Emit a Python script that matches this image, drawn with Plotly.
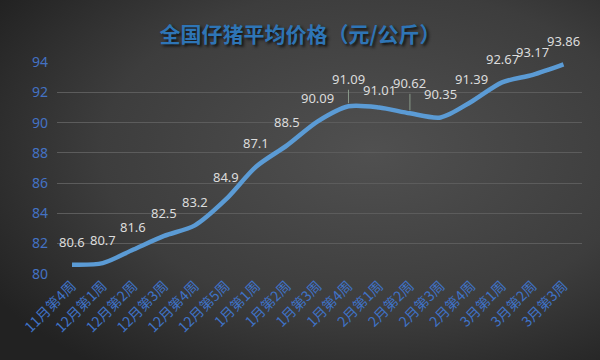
import base64
import plotly.graph_objects as go

categories = ["11月第4周", "12月第1周", "12月第2周", "12月第3周", "12月第4周", "12月第5周",
              "1月第1周", "1月第2周", "1月第3周", "1月第4周", "2月第1周", "2月第2周",
              "2月第3周", "2月第4周", "3月第1周", "3月第2周", "3月第3周"]
prices = [80.6, 80.7, 81.6, 82.5, 83.2, 84.9, 87.1, 88.5, 90.09, 91.09, 91.01, 90.62,
          90.35, 91.39, 92.67, 93.17, 93.86]
label_texts = ["80.6", "80.7", "81.6", "82.5", "83.2", "84.9", "87.1", "88.5", "90.09", "91.09",
               "91.01", "90.62", "90.35", "91.39", "92.67", "93.17", "93.86"]
y_ticks = [80, 82, 84, 86, 88, 90, 92, 94]

# label styling: vertical pixel offsets and which labels use leader lines
label_shift = {9: 27, 10: 17, 11: 30}
leader = {9, 11}

svg = """<svg xmlns='http://www.w3.org/2000/svg' width='600' height='360'>
<defs><radialGradient id='g' cx='0.62' cy='0.42' r='0.75'>
<stop offset='0' stop-color='#505050'/><stop offset='0.6' stop-color='#3d3d3d'/>
<stop offset='1' stop-color='#222222'/></radialGradient></defs>
<rect width='600' height='360' fill='url(#g)'/></svg>"""
bg_src = "data:image/svg+xml;base64," + base64.b64encode(svg.encode()).decode()

fig = go.Figure()
fig.add_trace(go.Scatter(
    x=categories, y=prices, mode="lines",
    line=dict(color="#5b9bd5", width=4.5, shape="spline", smoothing=0.8),
    hoverinfo="x+y", showlegend=False,
))

annotations = []
for i, (c, v, t) in enumerate(zip(categories, prices, label_texts)):
    shift = label_shift.get(i, 23)
    if i in leader:
        annotations.append(dict(
            x=c, y=v, xref="x", yref="y", text=t, showarrow=True, arrowhead=0,
            arrowwidth=1, arrowcolor="#8a9a8a", ax=0, ay=-shift, standoff=3,
            font=dict(family="Noto Sans, sans-serif", size=13, color="#dcdcdc"),
        ))
    else:
        annotations.append(dict(
            x=c, y=v, xref="x", yref="y", text=t, showarrow=False, yshift=shift,
            font=dict(family="Noto Sans, sans-serif", size=13, color="#dcdcdc"),
        ))

fig.update_layout(
    width=600, height=360,
    margin=dict(l=57, r=18, t=62, b=86, autoexpand=False),
    paper_bgcolor="#383838", plot_bgcolor="rgba(0,0,0,0)",
    images=[dict(source=bg_src, xref="paper", yref="paper", x=-57/525, y=1+62/212,
                 sizex=600/525, sizey=360/212, sizing="stretch", layer="below",
                 xanchor="left", yanchor="top")],
    title=dict(text="全国仔猪平均价格（元/公斤）", x=0.5, xanchor="center", y=0.905, yanchor="middle",
               font=dict(family="Noto Sans CJK SC", size=21, color="#2e75b6", weight="bold",
                         shadow="2px 2px 3px #111111")),
    annotations=annotations,
    xaxis=dict(type="category", tickangle=-45, showgrid=False, showline=False, ticks="",
               automargin=False,
               tickfont=dict(family="Noto Sans CJK SC", size=14, color="#3f72c6")),
    yaxis=dict(range=[79.98, 94.02], tickvals=y_ticks, showgrid=True, gridcolor="#5c5c5c",
               gridwidth=1, zeroline=False, showline=False, ticks="", ticklabelstandoff=8,
               automargin=False,
               tickfont=dict(family="Noto Sans, sans-serif", size=14, color="#4472c4")),
)

fig.write_html("out.html", config={"displayModeBar": False},
               post_script="document.body.style.margin='0';")
